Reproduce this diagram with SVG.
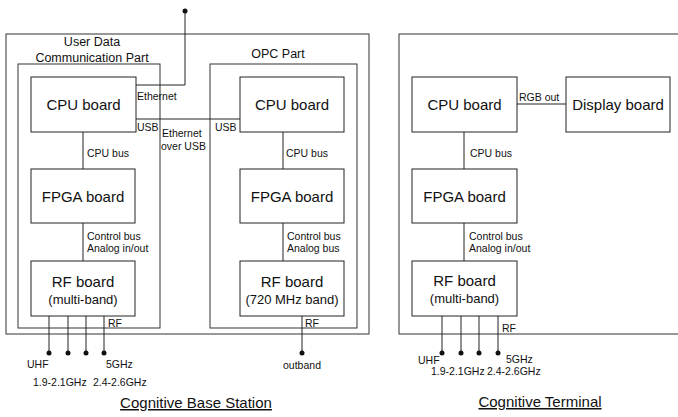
<svg xmlns="http://www.w3.org/2000/svg" width="678" height="417" viewBox="0 0 678 417">
<style>
.box{fill:#fff;stroke:#222;stroke-width:1}
.frame{fill:none;stroke:#333;stroke-width:1}
.ln{stroke:#222;stroke-width:1;fill:none}
.big{font-family:"Liberation Sans",Arial,sans-serif;font-size:15px;fill:#111;text-anchor:middle}
.mid{font-family:"Liberation Sans",Arial,sans-serif;font-size:13px;fill:#111;text-anchor:middle}
.hdr{font-family:"Liberation Sans",Arial,sans-serif;font-size:12.5px;fill:#111;text-anchor:middle}
.sm{font-family:"Liberation Sans",Arial,sans-serif;font-size:10.5px;fill:#111}
.ttl{font-family:"Liberation Sans",Arial,sans-serif;font-size:15px;fill:#111;text-anchor:middle;text-decoration:underline}
.dot{fill:#111}
</style>
<rect width="678" height="417" fill="#fff"/>
<g id="frames">
<rect class="frame" x="6" y="34" width="363" height="300"/>
<rect class="frame" x="18" y="64" width="142" height="264"/>
<rect class="frame" x="210" y="64" width="147" height="264"/>
<rect class="frame" x="399" y="34" width="285" height="300"/>
<text class="hdr" x="92" y="45.5">User Data</text>
<text class="hdr" x="92" y="61.5">Communication Part</text>
<text class="hdr" x="278" y="57.5">OPC Part</text>
</g>
<g id="connectors">
<polyline class="ln" points="136,85 185,85 185,11"/>
<circle class="dot" cx="185" cy="11" r="2.5"/>
<line class="ln" x1="136" y1="119" x2="240" y2="119"/>
<line class="ln" x1="83" y1="132" x2="83" y2="169"/>
<line class="ln" x1="83" y1="223" x2="83" y2="261"/>
<line class="ln" x1="283" y1="132" x2="283" y2="169"/>
<line class="ln" x1="283" y1="223" x2="283" y2="261"/>
<line class="ln" x1="49" y1="316" x2="49" y2="353"/>
<line class="ln" x1="68" y1="316" x2="68" y2="353"/>
<line class="ln" x1="86" y1="316" x2="86" y2="353"/>
<line class="ln" x1="104" y1="316" x2="104" y2="353"/>
<circle class="dot" cx="49" cy="353" r="2.5"/>
<circle class="dot" cx="68" cy="353" r="2.5"/>
<circle class="dot" cx="86" cy="353" r="2.5"/>
<circle class="dot" cx="104" cy="353" r="2.5"/>
<line class="ln" x1="302" y1="316" x2="302" y2="353"/>
<circle class="dot" cx="302" cy="353" r="2.5"/>
<line class="ln" x1="517" y1="104" x2="566" y2="104"/>
<line class="ln" x1="464" y1="132" x2="464" y2="169"/>
<line class="ln" x1="464" y1="223" x2="464" y2="261"/>
<line class="ln" x1="442" y1="316" x2="442" y2="353"/>
<line class="ln" x1="461" y1="316" x2="461" y2="353"/>
<line class="ln" x1="479" y1="316" x2="479" y2="353"/>
<line class="ln" x1="498" y1="316" x2="498" y2="353"/>
<circle class="dot" cx="442" cy="353" r="2.5"/>
<circle class="dot" cx="461" cy="353" r="2.5"/>
<circle class="dot" cx="479" cy="353" r="2.5"/>
<circle class="dot" cx="498" cy="353" r="2.5"/>
<text class="sm" x="137" y="100">Ethernet</text>
<text class="sm" x="137" y="131">USB</text>
<text class="sm" x="162" y="137">Ethernet</text>
<text class="sm" x="161" y="150">over USB</text>
<text class="sm" x="215" y="131">USB</text>
<text class="sm" x="87" y="157">CPU bus</text>
<text class="sm" x="87" y="240">Control bus</text>
<text class="sm" x="87" y="252">Analog in/out</text>
<text class="sm" x="286" y="157">CPU bus</text>
<text class="sm" x="287" y="240">Control bus</text>
<text class="sm" x="287" y="252">Analog bus</text>
<text class="sm" x="108" y="327">RF</text>
<text class="sm" x="305" y="327">RF</text>
<text class="sm" x="27" y="368">UHF</text>
<text class="sm" x="106" y="368">5GHz</text>
<text class="sm" x="33" y="386">1.9-2.1GHz</text>
<text class="sm" x="93" y="386">2.4-2.6GHz</text>
<text class="sm" x="302" y="369" text-anchor="middle">outband</text>
<text class="sm" x="519" y="101">RGB out</text>
<text class="sm" x="470" y="157">CPU bus</text>
<text class="sm" x="469" y="240">Control bus</text>
<text class="sm" x="469" y="252">Analog in/out</text>
<text class="sm" x="502" y="332">RF</text>
<text class="sm" x="418" y="364">UHF</text>
<text class="sm" x="506" y="363">5GHz</text>
<text class="sm" x="431" y="375">1.9-2.1GHz</text>
<text class="sm" x="487" y="375">2.4-2.6GHz</text>
</g>
<g id="bs-cpu"><rect class="box" x="31" y="77" width="105" height="55"/><text class="big" x="83.5" y="109.5">CPU board</text></g>
<g id="bs-fpga"><rect class="box" x="31" y="169" width="104" height="54"/><text class="big" x="83" y="201.5">FPGA board</text></g>
<g id="bs-rf"><rect class="box" x="31" y="261" width="104" height="55"/><text class="big" x="83" y="287">RF board</text><text class="mid" x="83" y="303.5">(multi-band)</text></g>
<g id="opc-cpu"><rect class="box" x="240" y="77" width="104" height="55"/><text class="big" x="292" y="109.5">CPU board</text></g>
<g id="opc-fpga"><rect class="box" x="240" y="169" width="104" height="54"/><text class="big" x="292" y="201.5">FPGA board</text></g>
<g id="opc-rf"><rect class="box" x="240" y="261" width="104" height="55"/><text class="big" x="292" y="287">RF board</text><text class="mid" x="292" y="303.5">(720 MHz band)</text></g>
<g id="t-cpu"><rect class="box" x="412" y="77" width="105" height="55"/><text class="big" x="464.5" y="109.5">CPU board</text></g>
<g id="t-display"><rect class="box" x="566" y="77" width="104" height="55"/><text class="big" x="618" y="109.5">Display board</text></g>
<g id="t-fpga"><rect class="box" x="412" y="169" width="105" height="54"/><text class="big" x="464.5" y="201.5">FPGA board</text></g>
<g id="t-rf"><rect class="box" x="412" y="261" width="105" height="55"/><text class="big" x="464.5" y="286">RF board</text><text class="mid" x="464.5" y="302.5">(multi-band)</text></g>
<g id="titles">
<text class="ttl" x="196" y="408">Cognitive Base Station</text>
<text class="ttl" x="540" y="407">Cognitive Terminal</text>
</g>
</svg>
